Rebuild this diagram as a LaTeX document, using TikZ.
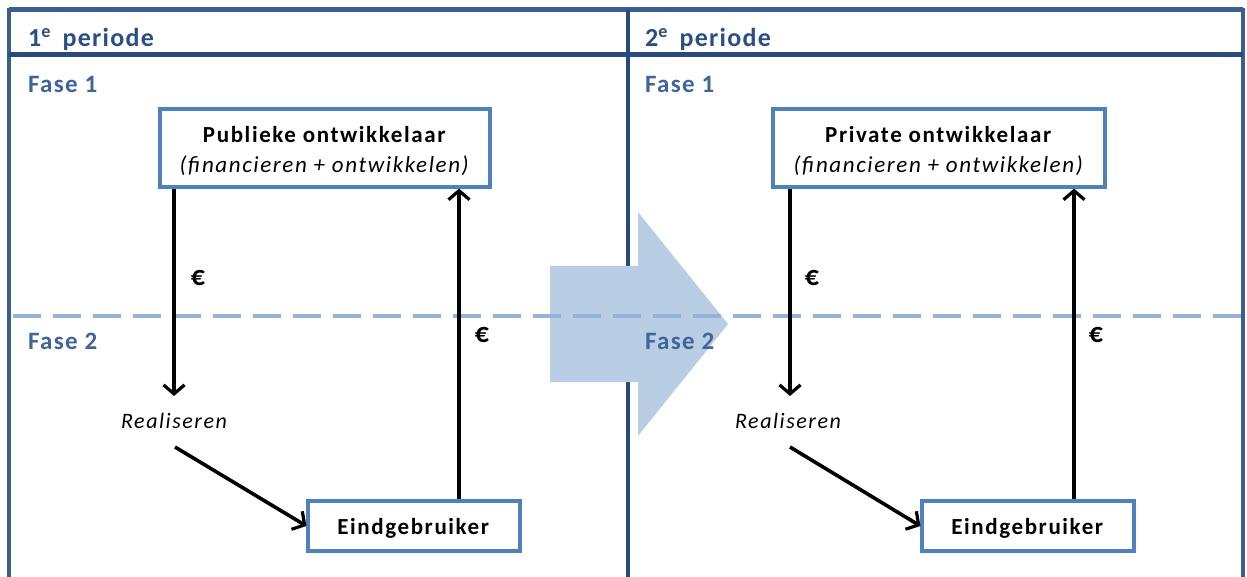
\documentclass[tikz,border=0pt]{standalone}
\usepackage{fontspec}
\setmainfont{Carlito}
\newfontfamily\boxfont[LetterSpace=7]{Carlito}
\newfontfamily\headfont[LetterSpace=5]{Carlito}
\usetikzlibrary{arrows.meta}
\definecolor{frameblue}{HTML}{3A5F8D}
\definecolor{headblue}{HTML}{27497C}
\definecolor{titleblue}{HTML}{2A4F84}
\definecolor{faseblue}{HTML}{3F6599}
\definecolor{boxblue}{HTML}{4F81BD}
\definecolor{dashblue}{HTML}{95B3D7}
\definecolor{bigarrow}{HTML}{B9CDE5}
\tikzset{
  partybox/.style={draw=boxblue, line width=3.2pt, fill=white, align=center, inner sep=0pt, font=\boxfont\fontsize{23}{30}\selectfont},
  flow/.style={draw=black, line width=3.6pt, -{Straight Barb[length=9pt,width=21pt,line width=3.2pt]}},
  periodlabel/.style={anchor=base west, inner sep=0pt, text=titleblue, font=\headfont\fontsize{26}{30}\selectfont\bfseries},
  faselabel/.style={anchor=base west, inner sep=0pt, text=faseblue, font=\headfont\fontsize{25}{30}\selectfont\bfseries},
  eurolabel/.style={anchor=base, inner sep=0pt, font=\fontsize{28}{32}\selectfont\bfseries},
  actlabel/.style={anchor=base, inner sep=0pt, font=\boxfont\fontsize{22}{26}\selectfont\itshape},
}
\begin{document}
\begin{tikzpicture}[x=1pt,y=-1pt]
\useasboundingbox (0,0) rectangle (1247,577);
% frame of the two periods
\draw[frameblue, line width=4pt] (9,580) -- (9,10) -- (1243,10) -- (1243,580);
\draw[frameblue, line width=5pt] (9,9.5) -- (1243,9.5);
\draw[headblue, line width=4.5pt] (9,54.5) -- (1243,54.5);
\draw[headblue, line width=4.5pt] (628,10) -- (628,580);
% transition arrow between the periods
\fill[bigarrow] (550,266) -- (638,266) -- (638,212) -- (728,324) -- (638,436) -- (638,382) -- (550,382) -- cycle;
% boundary between the phases
\draw[dashblue, line width=4.5pt, dash pattern=on 28pt off 12pt, dash phase=-2pt] (11,316) -- (1245,316);
% headings
\node[periodlabel] (p1) at (28,47) {1\textsuperscript{e}\, periode};
\node[periodlabel] (p2) at (645,47) {2\textsuperscript{e}\, periode};
\node[faselabel] (f1a) at (28,93) {Fase 1};
\node[faselabel] (f2a) at (28,349) {Fase 2};
\node[faselabel] (f1b) at (645,93) {Fase 1};
\node[faselabel] (f2b) at (645,349) {Fase 2};
% ---- first period ----
\node[partybox, minimum width=330pt, minimum height=78pt] (pub) at (325,148)
  {\rule{0pt}{22pt}\textbf{Publieke ontwikkelaar}\\\textit{(financieren + ontwikkelen)}};
\node[partybox, minimum width=212pt, minimum height=50pt] (eu1) at (414,526) {\rule{0pt}{21pt}\textbf{Eindgebruiker}};
\node[actlabel] (re1) at (174,428) {Realiseren};
\coordinate (d1) at (174,396);
\coordinate (s1) at (175,447);
\draw[flow] (pub.south -| d1) -- (d1);
\draw[flow] (s1) -- (eu1.west);
\draw[flow] (eu1.north -| 459,0) -- (pub.south -| 459,0);
\node[eurolabel] (e1) at (198,285) {€};
\node[eurolabel] (e2) at (482,342) {€};
% ---- second period ----
\node[partybox, minimum width=332pt, minimum height=78pt] (pri) at (939,148)
  {\rule{0pt}{22pt}\textbf{Private ontwikkelaar}\\\textit{(financieren + ontwikkelen)}};
\node[partybox, minimum width=212pt, minimum height=50pt] (eu2) at (1028,526) {\rule{0pt}{21pt}\textbf{Eindgebruiker}};
\node[actlabel] (re2) at (788,428) {Realiseren};
\coordinate (d2) at (790,396);
\coordinate (s2) at (790,447);
\draw[flow] (pri.south -| d2) -- (d2);
\draw[flow] (s2) -- (eu2.west);
\draw[flow] (eu2.north -| 1074,0) -- (pri.south -| 1074,0);
\node[eurolabel] (e3) at (812,285) {€};
\node[eurolabel] (e4) at (1096,342) {€};
\end{tikzpicture}
\end{document}
